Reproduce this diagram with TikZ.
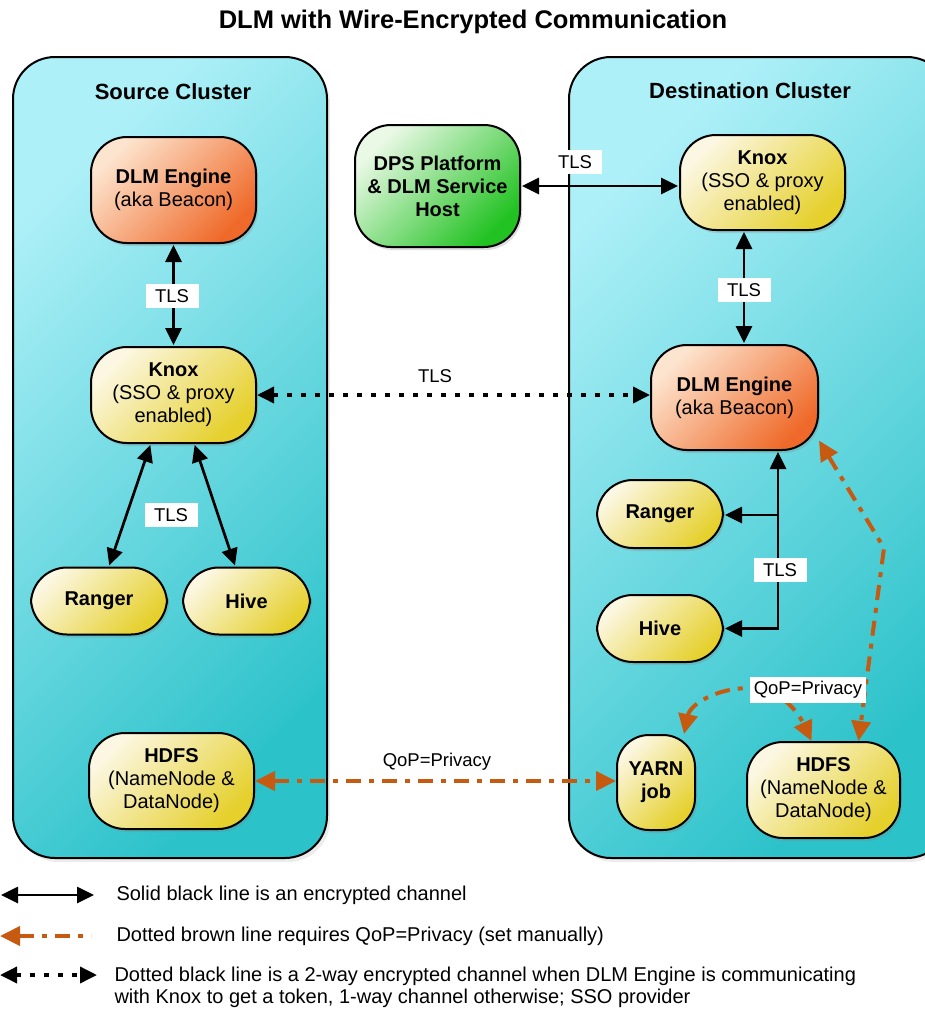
\documentclass[tikz,border=0pt]{standalone}
\usepackage{fontspec}
\setmainfont{Liberation Sans}
\usetikzlibrary{arrows.meta}
\usetikzlibrary{shadows}
\definecolor{cyanlt}{HTML}{AEF0F8}
\definecolor{cyandk}{HTML}{2CC2CA}
\definecolor{orglt}{HTML}{FDE4CE}
\definecolor{orgdk}{HTML}{EF6A2A}
\definecolor{yellt}{HTML}{FCF7E2}
\definecolor{yeldk}{HTML}{E5D02C}
\definecolor{grnlt}{HTML}{EAF9E6}
\definecolor{grndk}{HTML}{22C222}
\definecolor{qopbrown}{HTML}{C55A10}
\tikzset{box/.style = {draw, line width = 2, rounded corners = 36, align = center, font = \fontsize{20}{23}\selectfont, drop shadow = {opacity = 0.25, shadow xshift = 2pt, shadow yshift = -3pt}}}
\tikzset{eng/.style = {box, top color = orglt, bottom color = orgdk, shading angle = 45}}
\tikzset{svc/.style = {box, top color = yellt, bottom color = yeldk, shading angle = 45}}
\tikzset{host/.style = {box, top color = grnlt, bottom color = grndk, shading angle = 45}}
\tikzset{clus/.style = {draw, line width = 2, rounded corners = 42, top color = cyanlt, bottom color = cyandk, shading angle = 45, drop shadow = {opacity = 0.15, shadow xshift = 3pt, shadow yshift = -4pt}}}
\tikzset{head/.style = {font = \fontsize{22}{25}\selectfont\bfseries}}
\tikzset{lab/.style = {fill = white, inner sep = 4, minimum width = 53, minimum height = 24, font = \fontsize{18.5}{20}\selectfont}}
\tikzset{txt/.style = {font = \fontsize{18.5}{20}\selectfont}}
\tikzset{key/.style = {anchor = west, align = left, font = \fontsize{20}{22}\selectfont}}
\tikzset{arr/.style = {line width = 2.7, shorten < = 1pt, shorten > = 1pt, >={Triangle[length = 17pt, width = 16pt]}, <->}}
\tikzset{dotarr/.style = {line width = 3.6, dash pattern = on 5pt off 9pt, >={Triangle[length = 17pt, width = 16pt]}, <->}}
\tikzset{qop/.style = {color = qopbrown, line width = 4, dash pattern = on 15pt off 8pt on 5pt off 8pt, >={Triangle[length = 20pt, width = 19pt]}, <->}}

\begin{document}
\begin{tikzpicture}[x = 1pt, y = -1pt]
  \useasboundingbox (0, 0) rectangle (925, 1009);
  \clip (0, 0) rectangle (925, 1009);
  \node [font = \fontsize{25.5}{28}\selectfont\bfseries] (title) at (473, 22) {DLM with Wire-Encrypted Communication};

  \node [clus, minimum width = 314, minimum height = 801] (src) at (170, 457.5) {};
  \node [clus, minimum width = 380, minimum height = 801] (dst) at (759, 457.5) {};
  \node [head] (srchead) at (173, 92) {Source Cluster};
  \node [head] (dsthead) at (750, 91) {Destination Cluster};

  \node [eng, minimum width = 165, minimum height = 106] (eng1) at (173.5, 190) {\textbf{DLM Engine}\\(aka Beacon)};
  \node [svc, minimum width = 165, minimum height = 96] (knox1) at (173.5, 395) {\textbf{Knox}\\(SSO \& proxy\\enabled)};
  \node [svc, minimum width = 136, minimum height = 67] (rng1) at (99, 601) {\textbf{Ranger}};
  \node [svc, minimum width = 127, minimum height = 67] (hive1) at (246.5, 601) {\textbf{Hive}};
  \node [svc, minimum width = 165, minimum height = 96] (hdfs1) at (171.5, 781) {\textbf{HDFS}\\(NameNode \&\\DataNode)};

  \node [host, minimum width = 165, minimum height = 122] (dps) at (437.5, 186) {\textbf{DPS Platform}\\\textbf{\& DLM Service}\\\textbf{Host}};

  \node [svc, minimum width = 165, minimum height = 95] (knox2) at (762.5, 182.5) {\textbf{Knox}\\(SSO \& proxy\\enabled)};
  \node [eng, minimum width = 167, minimum height = 105] (eng2) at (734.5, 397.5) {\textbf{DLM Engine}\\(aka Beacon)};
  \node [svc, minimum width = 126, minimum height = 68] (rng2) at (660, 514) {\textbf{Ranger}};
  \node [svc, minimum width = 126, minimum height = 67] (hive2) at (660, 628.5) {\textbf{Hive}};
  \node [svc, rounded corners = 32, minimum width = 78, minimum height = 95] (yarn) at (656, 782.5) {\textbf{YARN}\\\textbf{job}};
  \node [svc, minimum width = 153, minimum height = 96] (hdfs2) at (823.5, 790) {\textbf{HDFS}\\(NameNode \&\\DataNode)};

  \draw [arr] (eng1) -- (knox1);
  \draw [arr] (knox1.-115) -- (rng1.74);
  \draw [arr] (knox1.-67) -- (hive1.108);
  \draw [arr] (dps.east) -- (knox2.west |- dps.east);
  \draw [arr] ([xshift = -18.5]knox2.south) -- ([xshift = 9.5]eng2.north);
  \draw [dotarr] (knox1.east) -- (eng2.west |- knox1.east);

  \coordinate (jr) at (778, 515);
  \coordinate (jh) at (778, 628.5);
  \draw [arr] (hive2.east) -| (jh |- eng2.south);
  \draw [arr, ->] (jr) -- (rng2.east |- jr);

  \coordinate (bend) at (884, 548);
  \draw [qop] (hdfs1.east) -- (yarn.west |- hdfs1.east);
  \draw [qop] (eng2.-27) -- (bend) -- ([xshift = 35]hdfs2.north);
  \draw [qop] (yarn.60) .. controls (690, 705) and (715, 688) .. (750, 688) .. controls (780, 688) and (798, 712) .. ([xshift = -12]hdfs2.north);

  \node [lab] (tls1) at (172, 296) {TLS};
  \node [lab] (tls2) at (171, 515) {TLS};
  \node [lab] (tls3) at (575, 162) {TLS};
  \node [lab] (tls4) at (744, 290) {TLS};
  \node [lab] (tls5) at (780, 570) {TLS};
  \node [txt] (tls6) at (435, 376) {TLS};
  \node [txt] (qop1) at (437, 762) {QoP=Privacy};
  \node [lab] (qop2) at (808, 690) {QoP=Privacy};

  \coordinate (k1a) at (0, 895);
  \coordinate (k1b) at (95, 895);
  \coordinate (k2a) at (0, 936);
  \coordinate (k2b) at (91, 936);
  \coordinate (k3a) at (0, 975);
  \coordinate (k3b) at (97, 975);
  \draw [arr] (k1a) -- (k1b);
  \draw [qop, <-] (k2a) -- (k2b);
  \draw [dotarr] (k3a) -- (k3b);
  \node [key] (key1) at (113, 895) {Solid black line is an encrypted channel};
  \node [key] (key2) at (113, 936) {Dotted brown line requires QoP=Privacy (set manually)};
  \node [key] (key3) at (111, 987) {Dotted black line is a 2-way encrypted channel when DLM Engine is communicating\\with Knox to get a token, 1-way channel otherwise; SSO provider};
\end{tikzpicture}
\end{document}
